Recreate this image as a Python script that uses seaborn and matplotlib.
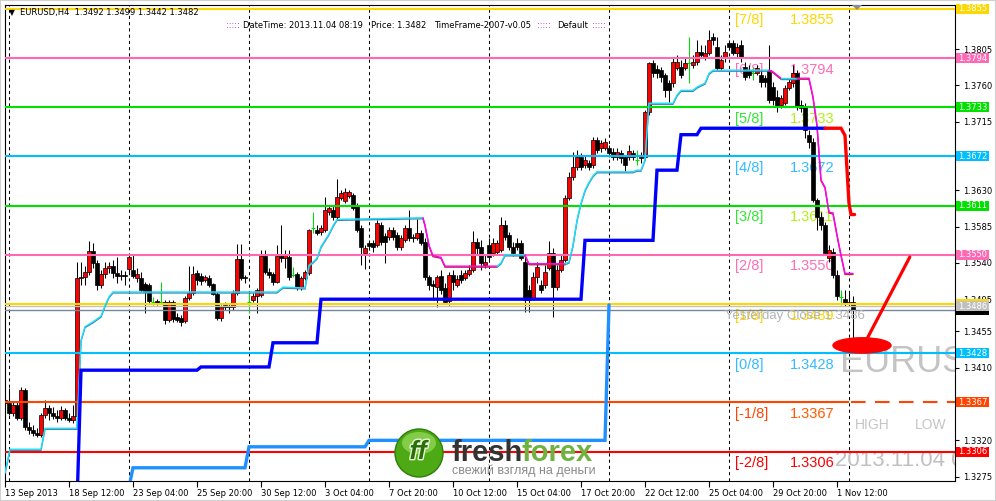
import numpy as np
import pandas as pd
import matplotlib
matplotlib.use("Agg")
import matplotlib.pyplot as plt
import matplotlib.transforms as mtransforms
import matplotlib.patheffects as pe
from matplotlib.patches import Ellipse, Rectangle, Polygon
import seaborn as sns

sns.set_theme(style="white")
plt.rcParams["font.family"] = ["DejaVu Sans"]
plt.rcParams["axes.linewidth"] = 0.8

BASE, PIP = 1.3, 0.0001

# ---------------- EURUSD H4 candles (pips above 1.3000) ----------------
open_pips = [
    370, 366, 354, 364, 348, 382, 337, 333, 329, 327,
    351, 360, 354, 350, 348, 358, 348, 345, 350, 521,
    523, 529, 555, 540, 513, 526, 534, 536, 527, 524,
    525, 532, 531, 521, 521, 514, 513, 492, 493, 492,
    492, 469, 492, 473, 472, 468, 496, 503, 527, 524,
    519, 521, 514, 501, 472, 488, 487, 485, 503, 545,
    523, 492, 494, 499, 500, 549, 529, 526, 516, 549,
    546, 547, 525, 526, 510, 521, 527, 583, 581, 578,
    581, 603, 606, 597, 620, 617, 623, 624, 611, 583,
    552, 565, 565, 562, 587, 573, 572, 581, 575, 560,
    568, 583, 571, 571, 577, 566, 523, 514, 510, 524,
    509, 493, 525, 513, 525, 521, 526, 531, 566, 560,
    537, 562, 552, 554, 556, 587, 575, 560, 565, 565,
    541, 506, 496, 523, 513, 513, 534, 552, 510, 531,
    544, 620, 647, 659, 671, 661, 664, 661, 692, 682,
    682, 682, 678, 671, 676, 671, 671, 676, 668, 670,
    671, 727, 788, 780, 779, 773, 763, 763, 782, 783,
    782, 788, 785, 789, 802, 794, 800, 820, 808, 782,
    794, 813, 813, 800, 810, 783, 779, 775, 775, 773,
    769, 779, 758, 746, 736, 738, 757, 763, 775, 736,
    733, 699, 690, 618, 597, 587, 546, 554, 525, 498,
    495, 490, 492]
close_pips = [
    366, 354, 364, 348, 382, 337, 333, 329, 327, 351,
    360, 354, 350, 348, 358, 348, 345, 350, 521, 523,
    529, 555, 540, 513, 526, 534, 536, 527, 524, 525,
    524, 547, 524, 526, 506, 504, 493, 492, 490, 492,
    469, 492, 470, 469, 467, 496, 503, 526, 519, 518,
    523, 513, 501, 472, 485, 485, 485, 503, 545, 521,
    521, 492, 499, 506, 549, 529, 525, 516, 549, 546,
    550, 523, 525, 510, 521, 529, 581, 583, 577, 583,
    606, 608, 597, 622, 627, 628, 628, 608, 581, 560,
    558, 561, 560, 589, 566, 566, 581, 572, 560, 571,
    583, 571, 572, 577, 565, 523, 513, 511, 523, 506,
    492, 525, 516, 520, 519, 527, 531, 566, 558, 540,
    541, 547, 565, 565, 587, 572, 560, 552, 560, 546,
    494, 494, 523, 535, 506, 529, 552, 510, 531, 544,
    620, 647, 659, 671, 659, 668, 659, 692, 680, 689,
    690, 676, 671, 678, 670, 661, 679, 671, 668, 671,
    727, 788, 775, 775, 771, 754, 754, 789, 789, 773,
    788, 788, 789, 802, 798, 800, 816, 816, 782, 792,
    802, 808, 800, 808, 794, 771, 773, 775, 782, 764,
    764, 742, 742, 733, 744, 757, 764, 775, 733, 732,
    705, 690, 618, 597, 587, 552, 556, 525, 499, 498,
    490, 492, 482]
high_pips = [
    376, 385, 368, 368, 386, 385, 343, 339, 335, 354,
    370, 364, 361, 358, 363, 360, 354, 364, 541, 541,
    536, 567, 565, 544, 531, 541, 541, 544, 547, 531,
    530, 550, 551, 534, 529, 516, 515, 498, 495, 516,
    494, 494, 494, 478, 475, 499, 536, 536, 531, 527,
    525, 525, 515, 504, 488, 492, 490, 506, 563, 563,
    525, 503, 503, 509, 556, 556, 534, 529, 562, 587,
    556, 556, 535, 529, 524, 531, 582, 603, 587, 587,
    622, 612, 612, 644, 630, 633, 630, 627, 614, 587,
    562, 568, 568, 593, 591, 577, 585, 585, 578, 575,
    587, 606, 576, 594, 581, 571, 525, 519, 525, 531,
    515, 529, 531, 525, 531, 531, 537, 580, 571, 568,
    550, 571, 571, 568, 597, 593, 578, 566, 571, 568,
    550, 513, 529, 541, 519, 537, 567, 558, 537, 550,
    624, 653, 678, 680, 676, 674, 668, 696, 696, 692,
    695, 686, 682, 682, 680, 674, 686, 680, 680, 678,
    730, 789, 792, 785, 783, 775, 767, 794, 798, 792,
    794, 820, 798, 816, 810, 810, 829, 825, 820, 798,
    810, 816, 816, 813, 816, 789, 785, 783, 785, 779,
    773, 810, 764, 754, 748, 761, 769, 785, 779, 742,
    738, 705, 695, 620, 603, 591, 562, 558, 531, 506,
    506, 503, 499]
low_pips = [
    358, 351, 350, 345, 345, 333, 328, 325, 324, 324,
    348, 345, 346, 343, 345, 345, 343, 341, 343, 513,
    513, 525, 534, 506, 509, 521, 527, 521, 515, 519,
    513, 529, 521, 516, 504, 478, 490, 488, 488, 490,
    464, 467, 467, 467, 462, 465, 494, 500, 513, 513,
    516, 510, 500, 469, 468, 482, 478, 482, 500, 519,
    515, 478, 492, 478, 498, 526, 521, 513, 515, 541,
    534, 519, 523, 506, 506, 519, 525, 577, 575, 575,
    578, 599, 593, 594, 618, 614, 620, 606, 578, 537,
    532, 556, 554, 560, 562, 540, 568, 568, 556, 556,
    566, 567, 566, 568, 562, 519, 506, 494, 485, 501,
    490, 488, 506, 510, 515, 519, 524, 529, 550, 531,
    534, 544, 549, 550, 554, 568, 556, 549, 556, 544,
    479, 479, 494, 515, 503, 509, 531, 473, 506, 529,
    541, 618, 643, 655, 655, 658, 655, 658, 676, 678,
    680, 671, 668, 668, 664, 653, 668, 668, 661, 664,
    668, 723, 771, 769, 764, 746, 740, 758, 779, 769,
    779, 763, 782, 785, 794, 792, 798, 810, 779, 779,
    789, 804, 798, 794, 789, 767, 769, 767, 773, 758,
    758, 738, 736, 727, 732, 736, 754, 758, 730, 727,
    695, 682, 616, 581, 581, 550, 541, 521, 494, 488,
    487, 487, 442]

# ---------------- axis labels ----------------
xtick_bars = [0, 16, 32, 48, 64, 80, 96, 112, 128, 144, 160, 176, 192, 208]
xtick_labels = ["13 Sep 2013", "18 Sep 12:00", "23 Sep 04:00", "25 Sep 20:00",
                "30 Sep 12:00", "3 Oct 04:00", "7 Oct 20:00", "10 Oct 12:00",
                "15 Oct 04:00", "17 Oct 20:00", "22 Oct 12:00", "25 Oct 04:00",
                "29 Oct 20:00", "1 Nov 12:00"]
ytick_values = [1.3275, 1.3320, 1.3410, 1.3455, 1.3495, 1.3540, 1.3585,
                1.3630, 1.3715, 1.3760, 1.3805]
week_starts = [1, 31, 61, 91, 121, 151, 181, 211]

# ---------------- Murrey Math levels ----------------
mm_tags = ["[7/8]", "[6/8]", "[5/8]", "[4/8]", "[3/8]", "[2/8]", "[1/8]", "[0/8]", "[-1/8]", "[-2/8]"]
mm_levels = [1.3855, 1.3794, 1.3733, 1.3672, 1.3611, 1.3550, 1.3489, 1.3428, 1.3367, 1.3306]
mm_line_colors = ["#FFD700", "#FF69B4", "#00E100", "#00BFFF", "#00E100",
                  "#FF69B4", "#FFD700", "#00BFFF", "#FF4500", "#FF0000"]
mm_tag_colors = ["#FFD700", "#FF6EB4", "#33E633", "#33BBFF", "#33E633",
                 "#FF6EB4", "#FFD700", "#33BBFF", "#FF4500", "#FF0000"]
mm_num_colors = ["#FFD700", "#FF6EB4", "#B4F014", "#33BBFF", "#B4F014",
                 "#FF6EB4", "#FFD700", "#33BBFF", "#FF5A00", "#FF0000"]
yesterday_close = 1.3486
bid_price = 1.3482

# ---------------- indicator lines (bar, pips) ----------------
st_bar = [0, 1.25, 9, 10, 18, 19, 20, 22, 24, 25, 26, 27, 68, 69.5, 75, 76, 77, 78, 79, 80, 81, 82, 83, 104.5,
          105, 106, 107, 109, 110, 123,
          124, 125, 130,
          131, 140,
          141, 142, 143, 144, 145, 146, 147, 148, 157, 158, 159, 160, 161, 167, 168, 169, 172, 173, 175, 176, 177, 191,
          192, 194,
          195, 198,
          199, 201, 202, 203, 204, 205, 206, 207, 208, 209, 210, 212]
st_val = [280, 309, 309, 335, 335, 444, 461, 467, 474, 487, 498, 504, 504, 510, 509, 537, 541, 546, 560, 568, 576, 586, 594, 596,
          587, 562, 549, 547, 536, 536,
          540, 550, 550,
          539, 539,
          541, 562, 593, 614, 630, 640, 648, 653, 653, 655, 655, 668, 738, 738, 748, 754, 754, 758, 763, 775, 779, 779,
          777, 769,
          769, 769,
          769, 769, 746, 711, 643, 634, 603, 602, 575, 550, 527, 527]
st_dir = [1] * 24 + [-1] * 6 + [1] * 3 + [-1] * 2 + [1] * 22 + [-1] * 2 + [1] * 2 + [-1] * 12

trail_bar = [18, 19, 48, 49, 66, 67, 78, 79, 144, 145, 162, 163, 168, 169, 173, 174, 205]
trail_val = [240, 407, 407, 411, 411, 441, 441, 495, 495, 568, 568, 655, 655, 699, 699, 707, 707]
trail_dn_bar = [205, 209, 210, 211, 211.5, 212.4]
trail_dn_val = [707, 707, 698, 614, 600, 600]
slow_bar = [31, 32, 60, 61, 90, 91, 150, 151]
slow_val = [262, 286, 286, 312, 312, 320, 320, 488]

# ---------------- figure ----------------
W, H = 996, 501
fig = plt.figure(figsize=(W / 100, H / 100), dpi=100)
fig.patch.set_facecolor("white")
ax = fig.add_axes([5 / W, 20 / H, 950 / W, 476 / H])
ax.set_facecolor("white")
XMAX = 237.5
ax.set_xlim(0, XMAX)
ax.set_ylim(BASE + 269.6 * PIP, BASE + 859.8 * PIP)

def fpx(x, y):
    return (x / W, 1 - y / H)

def afr(x, y):
    return ((x - 5) / 950, (481 - y) / 476)

# candles
df = pd.DataFrame({"bar": np.arange(len(close_pips)),
                   "open": BASE + np.array(open_pips) * PIP,
                   "high": BASE + np.array(high_pips) * PIP,
                   "low": BASE + np.array(low_pips) * PIP,
                   "close": BASE + np.array(close_pips) * PIP})
bull = df[df.close > df.open]
bear = df[df.close < df.open]
doji = df[df.close == df.open]
nd = df[df.close != df.open]
ax.vlines(nd.bar, nd.low, nd.high, color="black", lw=0.75, zorder=2)
ax.bar(bull.bar, bull.close - bull.open, bottom=bull.open, width=0.78,
       color="#FF0000", edgecolor="black", linewidth=0.5, zorder=2.1)
ax.bar(bear.bar, bear.close - bear.open, bottom=bear.open, width=0.78,
       color="black", edgecolor="black", linewidth=0.5, zorder=2.1)
ax.vlines(doji.bar, doji.low, doji.high, color="#00DD00", lw=0.75, zorder=2)
ax.hlines(doji.close, doji.bar - 0.45, doji.bar + 0.45, color="#00DD00", lw=0.75, zorder=2)

# weekly separators
for wb in week_starts:
    ax.axvline(wb, color="black", lw=0.75, linestyle=(0, (3, 3)), zorder=1)

# Murrey levels
btr = mtransforms.blended_transform_factory(ax.transAxes, ax.transData)
for tag, lvl, lc, tc, nc in zip(mm_tags, mm_levels, mm_line_colors, mm_tag_colors, mm_num_colors):
    if tag == "[-1/8]":
        ax.hlines(lvl, 0, week_starts[-1], color=lc, lw=1.5, zorder=3)
        ax.hlines(lvl, week_starts[-1] + 0.5, XMAX, color=lc, lw=1.5, linestyles=(0, (7, 4.5)), zorder=3)
    else:
        ax.axhline(lvl, color=lc, lw=1.5, zorder=3)
    ax.annotate(tag, xy=(afr(735, 0)[0], lvl), xycoords=btr, xytext=(0, -11.2),
                textcoords="offset points", color=tc, fontsize=10.5, family="Liberation Sans",
                ha="left", va="baseline", zorder=1.8, annotation_clip=False)
    ax.annotate(f"{lvl:.4f}", xy=(afr(790, 0)[0], lvl), xycoords=btr, xytext=(0, -11.2),
                textcoords="offset points", color=nc, fontsize=10.5, family="Liberation Sans",
                ha="left", va="baseline", zorder=1.8, annotation_clip=False)

ax.axhline(yesterday_close, color="#C0C0C0", lw=1.0, zorder=3)
ax.axhline(bid_price, color="#778899", lw=1.0, zorder=3)
ax.text(*afr(725, 316), f"Yesterday Close {yesterday_close:.4f}", transform=ax.transAxes,
        color="#B4B4B4", fontsize=9.5, family="Liberation Sans", ha="left", va="center", zorder=5)

# indicator lines through seaborn
shift_dn = mtransforms.ScaledTranslation(0, -1.0 / 100, fig.dpi_scale_trans)

def draw_line(xs, ys, color, lw, z, shift=None):
    sns.lineplot(x=list(xs), y=list(ys), sort=False, estimator=None, color=color,
                 linewidth=lw, ax=ax, legend=False, zorder=z)
    ln = ax.lines[-1]
    ln.set_solid_joinstyle("miter")
    if shift is not None:
        ln.set_transform(ax.transData + shift)
    return ln

st_price = [BASE + v * PIP for v in st_val]
runs = []
cur = [0, 1]
cur_d = st_dir[1]
for j in range(2, len(st_bar)):
    if st_dir[j] == cur_d:
        cur.append(j)
    else:
        runs.append((cur_d, cur))
        cur = [j - 1, j]
        cur_d = st_dir[j]
runs.append((cur_d, cur))
for d, idx in runs:
    xs = [st_bar[k] for k in idx]
    ys = [st_price[k] for k in idx]
    if d > 0:
        draw_line(xs, ys, "#4A7FA8", 1.0, 4, shift_dn)
        draw_line(xs, ys, "#19E1FF", 1.0, 4.1)
    else:
        draw_line(xs, ys, "#B0302A", 1.0, 4, shift_dn)
        draw_line(xs, ys, "#FF00FF", 1.0, 4.1)

draw_line(trail_bar, [BASE + v * PIP for v in trail_val], "#0000FF", 2.4, 4.5)
draw_line(trail_dn_bar, [BASE + v * PIP for v in trail_dn_val], "#FF0000", 2.4, 4.5)
draw_line(slow_bar, [BASE + v * PIP for v in slow_val], "#1E90FF", 2.4, 4.5)

# annotation drawn on chart
callout_center = (214.25, 1.34377)
ax.add_patch(Ellipse(callout_center, width=14.5, height=0.0019, color="#FF0000", zorder=6))
ax.plot([215.3, 226.2], [1.34440, 1.35473], color="#FF0000", lw=2.3, solid_capstyle="round", zorder=6)

# big grey info texts (clipped to chart)
ax.text(*afr(840, 362), "EURUSD", transform=ax.transAxes, color="#C4C4C4", fontsize=26,
        family="Liberation Sans", ha="left", va="center", clip_on=True, zorder=1.5)
ax.text(*afr(855, 425), "HIGH", transform=ax.transAxes, color="#C4C4C4", fontsize=10,
        family="Liberation Sans", ha="left", va="center", zorder=1.5)
ax.text(*afr(915, 425), "LOW", transform=ax.transAxes, color="#C4C4C4", fontsize=10,
        family="Liberation Sans", ha="left", va="center", zorder=1.5)
ax.text(*afr(835, 460), "2013.11.04 08:19", transform=ax.transAxes, color="#C0C0C0", fontsize=16,
        family="Liberation Sans", ha="left", va="center", clip_on=True, zorder=1.5)

# axes styling
for sp in ax.spines.values():
    sp.set_color("black")
    sp.set_linewidth(0.8)
ax.yaxis.tick_right()
ax.set_yticks(ytick_values)
ax.set_yticklabels([f"{v:.4f}" for v in ytick_values])
ax.set_xticks(xtick_bars)
ax.set_xticklabels(xtick_labels, ha="left")
ax.tick_params(axis="y", direction="out", length=3, width=0.8, pad=2.5, labelsize=6,
               colors="black", right=True, left=False)
ax.tick_params(axis="x", direction="out", length=4, width=0.8, pad=1.5, labelsize=6,
               colors="black", bottom=True)
ax.set_xlabel("")
ax.set_ylabel("")
ax.grid(False)

# price boxes on right scale
box_w = 33 / 950
box_h = 10 * 1.24 * PIP
def price_box(lvl, col, txt=None, z=10):
    ax.add_patch(Rectangle((1.0 + 1 / 950, lvl - box_h / 2), box_w, box_h, transform=btr,
                           facecolor=col, edgecolor="none", clip_on=False, zorder=z))
    if txt:
        ax.text(1.0 + 1 / 950 + box_w / 2, lvl, txt, transform=btr, ha="center", va="center",
                color="white", fontsize=6, clip_on=False, zorder=z + 0.5)

price_box(bid_price, "black", None, 10)
for lvl, col in zip(mm_levels, mm_line_colors):
    price_box(lvl, col, None if lvl == 1.3489 else f"{lvl:.4f}", 10.2)
price_box(yesterday_close, "#C0C0C0", f"{yesterday_close:.4f}", 11)

# header texts
last = df.iloc[-1]
fig.text(*fpx(9, 13), "\u25BC", fontsize=5.5, color="black", va="center", ha="left")
fig.text(*fpx(20, 13), f"EURUSD,H4  {last.open:.4f} {last.high:.4f} {last.low:.4f} {last.close:.4f}",
         fontsize=6, color="black", va="center", ha="left")
fig.text(*fpx(226, 25.5), ":::::", fontsize=6, color="#9400D3", va="center", ha="left")
fig.text(*fpx(243, 25.5), "DateTime: 2013.11.04 08:19", fontsize=6, color="black", va="center", ha="left")
fig.text(*fpx(371, 25.5), f"Price: {last.close:.4f}", fontsize=6, color="black", va="center", ha="left")
fig.text(*fpx(434, 25.5), "TimeFrame-2007-v0.05", fontsize=6, color="black", va="center", ha="left")
fig.text(*fpx(537, 25.5), ":::::", fontsize=6, color="#9400D3", va="center", ha="left")
fig.text(*fpx(557, 25.5), "Default", fontsize=6, color="black", va="center", ha="left")
fig.text(*fpx(592, 25.5), ":::::", fontsize=6, color="#9400D3", va="center", ha="left")

# chart-shift marker
fig.patches.append(Polygon([fpx(852, 5), fpx(862, 5), fpx(857, 10)], closed=True,
                           transform=fig.transFigure, facecolor="#8C8C8C", edgecolor="none", zorder=20))

# FreshForex logo
fig.patches.append(Ellipse(fpx(419, 453), 48 / W, 48 / H, transform=fig.transFigure,
                           facecolor="#4DAA14", edgecolor="#2F7D0C", lw=1, zorder=20))
fig.patches.append(Ellipse(fpx(419, 443), 34 / W, 22 / H, transform=fig.transFigure,
                           facecolor="#A8E36A", edgecolor="none", alpha=0.6, zorder=20))
fig.text(*fpx(418, 452), "ff", fontsize=19, fontweight="bold", fontstyle="italic",
         family="Liberation Sans", color="#2C6E0C", ha="center", va="center", zorder=21,
         path_effects=[pe.withStroke(linewidth=2, foreground="#E8F8D8")])
fig.text(*fpx(451, 461), "fresh", fontsize=21, fontweight="bold", family="Liberation Sans",
         color="#333333", ha="left", va="baseline", zorder=21)
fig.text(*fpx(521, 461), "forex", fontsize=21, fontweight="bold", family="Liberation Sans",
         color="#6DB33F", ha="left", va="baseline", zorder=21)
fig.text(*fpx(452, 474), "свежий взгляд на деньги", fontsize=9, family="Liberation Sans",
         color="#8A8A8A", ha="left", va="baseline", zorder=21)

# outer frame
fig.patches.append(Rectangle((0, 0), 1, 1, transform=fig.transFigure, fill=False,
                             edgecolor="#D0D0D0", lw=1.5, zorder=30))

fig.savefig("out.png", dpi=100)
